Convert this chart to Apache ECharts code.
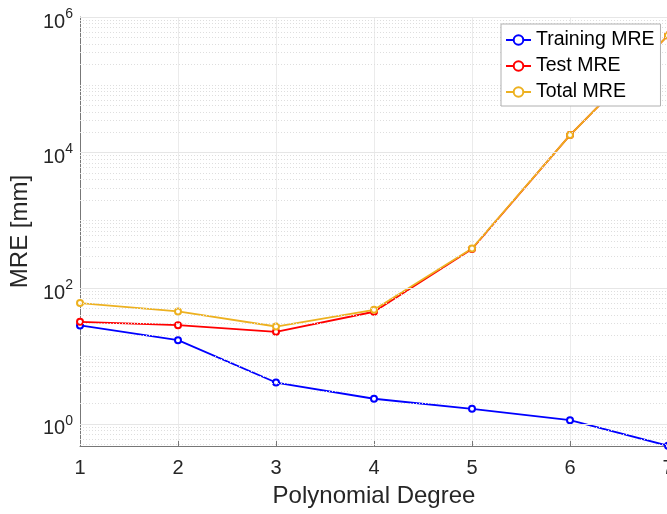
<!DOCTYPE html>
<html>
<head>
<meta charset="utf-8">
<script src="https://cdn.jsdelivr.net/npm/echarts@6/dist/echarts.min.js"></script>
<style>html,body{margin:0;padding:0;background:#fff;}#c{width:667px;height:514px;}</style>
</head>
<body>
<div id="c"></div>
<script>
const degrees = [1, 2, 3, 4, 5, 6, 7];
const trainingMRE = [28.2, 17.1, 4.06, 2.34, 1.66, 1.13, 0.474];
const testMRE = [31.9, 28.5, 22.7, 44.9, 378, 18100, 535000];
const totalMRE = [60.3, 45.4, 27.2, 48.0, 385, 18100, 535000];
const yTickExps = [0, 2, 4, 6];
const seriesNames = ['Training MRE', 'Test MRE', 'Total MRE'];
const seriesColors = ['#0000FF', '#FF0000', '#EDB120'];

const yMin = 0.47, yMax = 1e6;
const FONT = '"Liberation Sans", Arial, sans-serif';

// grid lines for the log axis (major at labelled decades, dotted minor elsewhere)
const majorLines = yTickExps.map(e => ({ yAxis: Math.pow(10, e) }));
const minorLines = [];
for (let k = -1; k <= 5; k++) {
  for (let m = 1; m <= 9; m++) {
    const v = m * Math.pow(10, k);
    if (m === 1 && yTickExps.indexOf(k) >= 0) continue;
    if (v >= yMin && v < yMax) minorLines.push({ yAxis: v });
  }
}

function pairs(ys) { return degrees.map((d, i) => [d, ys[i]]); }

function lineSeries(name, ys, color) {
  return {
    name: name, type: 'line', data: pairs(ys), z: 2,
    symbol: 'emptyCircle', symbolSize: 6,
    lineStyle: { color: color, width: 1.8 },
    itemStyle: { color: color, borderColor: color, borderWidth: 1.6 },
    emphasis: { disabled: true },
    clip: false
  };
}

const chart = echarts.init(document.getElementById('c'), null, { renderer: 'canvas' });
chart.setOption({
  animation: false,
  backgroundColor: '#fff',
  textStyle: { fontFamily: FONT },
  grid: { left: 80, top: 17, width: 588, height: 429, containLabel: false, outerBoundsMode: 'none' },
  legend: {
    data: seriesNames,
    orient: 'vertical',
    left: 501, top: 24, z: 20,
    padding: [5, 6, 3, 4],
    itemGap: 4,
    itemWidth: 25, itemHeight: 12,
    backgroundColor: '#fff',
    borderColor: '#b0b0b0', borderWidth: 1,
    textStyle: { fontSize: 19.5, color: '#000', fontFamily: FONT, lineHeight: 22 },
    selectedMode: false
  },
  xAxis: {
    type: 'value', min: 1, max: 7, interval: 1,
    name: 'Polynomial Degree', nameLocation: 'middle', nameGap: 38,
    nameTextStyle: { fontSize: 24, color: '#262626', fontFamily: FONT },
    axisLine: { show: true, lineStyle: { color: '#777', width: 1 } },
    axisTick: { show: true, inside: true, length: 5, lineStyle: { color: '#777' } },
    axisLabel: { fontSize: 20, color: '#262626', margin: 12, fontFamily: FONT },
    splitLine: { show: true, lineStyle: { color: '#ebebeb', width: 1 } }
  },
  yAxis: {
    type: 'log', logBase: 10, min: yMin, max: yMax,
    name: 'MRE [mm]', nameLocation: 'middle', nameGap: 46,
    nameTextStyle: { fontSize: 24, color: '#262626', fontFamily: FONT },
    axisLine: { show: true, lineStyle: { color: '#777', width: 1 } },
    axisTick: { show: false },
    splitLine: { show: false },
    axisLabel: {
      margin: 7, color: '#262626',
      formatter: function (v) {
        const e = Math.log10(v);
        const r = Math.round(e);
        if (Math.abs(e - r) > 1e-6 || yTickExps.indexOf(r) < 0) return '';
        return '{b|10}{s|' + r + '}';
      },
      rich: {
        b: { fontSize: 20, color: '#262626', fontFamily: FONT, padding: [10, 0, 0, 0] },
        s: { fontSize: 14, color: '#262626', fontFamily: FONT, padding: [0, 0, 6, 0] }
      }
    }
  },
  series: [
    {
      name: 'grid', type: 'line', data: [], z: 1, silent: true,
      markLine: {
        silent: true, symbol: ['none', 'none'], animation: false,
        label: { show: false },
        emphasis: { disabled: true },
        data: majorLines.map(d => Object.assign({ lineStyle: { color: '#e6e6e6', type: 'solid', width: 1 } }, d))
          .concat(minorLines.map(d => Object.assign({ lineStyle: { color: '#dedede', type: [1, 2], width: 1 } }, d)))
      }
    },
    lineSeries(seriesNames[0], trainingMRE, seriesColors[0]),
    lineSeries(seriesNames[1], testMRE, seriesColors[1]),
    lineSeries(seriesNames[2], totalMRE, seriesColors[2])
  ]
});
</script>
</body>
</html>
